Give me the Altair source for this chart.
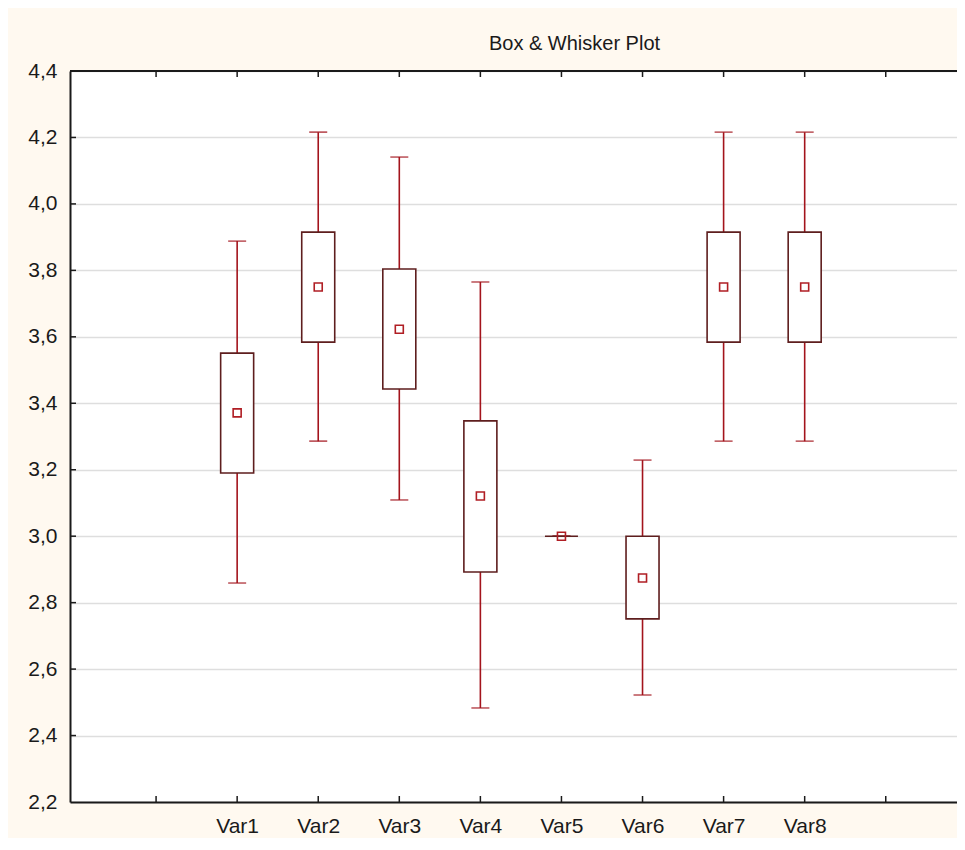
import altair as alt
import pandas as pd

# ---- data ----
slot_labels = ["", "Var1", "Var2", "Var3", "Var4", "Var5", "Var6", "Var7", "Var8", ""]
categories = ["Var1", "Var2", "Var3", "Var4", "Var5", "Var6", "Var7", "Var8"]
means      = [3.371, 3.750, 3.623, 3.121, 3.000, 2.874, 3.750, 3.750]
box_low    = [3.190, 3.584, 3.443, 2.892, 3.000, 2.751, 3.584, 3.584]
box_high   = [3.551, 3.915, 3.804, 3.347, 3.000, 3.000, 3.915, 3.915]
whisk_low  = [2.859, 3.286, 3.109, 2.483, 3.000, 2.522, 3.286, 3.286]
whisk_high = [3.888, 4.216, 4.141, 3.765, 3.000, 3.229, 4.216, 4.216]
y_ticks = [2.2, 2.4, 2.6, 2.8, 3.0, 3.2, 3.4, 3.6, 3.8, 4.0, 4.2, 4.4]

W, H = 887, 731
STEP = 82
FONT = "Liberation Sans"
BG = "#FFF9F0"
WHISK = "#A3141C"
BOXC = "#5E1E1E"
INK = "#1a1a1a"

slot_pos = list(range(1, len(slot_labels) + 1))
df = pd.DataFrame({
    "cat": categories,
    "pos": [slot_labels.index(c) + 1 for c in categories],
    "mean": means, "blo": box_low, "bhi": box_high,
    "wlo": whisk_low, "whi": whisk_high,
})
xt = pd.DataFrame({"pos": slot_pos})
yt = pd.DataFrame({"v": y_ticks[1:-1]})

label_js = "[" + ",".join("'" + s + "'" for s in slot_labels) + "]"
xscale = alt.Scale(domain=[0, W / STEP], nice=False, zero=False)
yscale = alt.Scale(domain=[y_ticks[0], y_ticks[-1]], nice=False, zero=False)

xaxis = alt.Axis(
    orient="bottom", values=slot_pos, labelExpr=label_js + "[datum.value - 1]",
    title=None, grid=False, ticks=False, domain=True, labelAngle=0,
    domainColor=INK, domainWidth=2, labelFlush=False, labelOverlap=False,
    labelFont=FONT, labelFontSize=21, labelColor=INK, labelPadding=13,
)
yaxis = alt.Axis(
    orient="left", values=y_ticks, format=".1f", title=None, grid=True,
    gridColor="#DEDEDE", gridWidth=1.6, ticks=False, domain=True,
    domainColor=INK, domainWidth=2, labelFlush=False, labelOverlap=False,
    labelFont=FONT, labelFontSize=21, labelColor=INK, labelPadding=13,
)

X = alt.X("pos:Q", scale=xscale, axis=xaxis)

def Y(field):
    return alt.Y(field, scale=yscale, axis=yaxis)

base = alt.Chart(df)

whiskers = base.mark_rule(color=WHISK, strokeWidth=1.6).encode(
    x=X, y=Y("wlo:Q"), y2="whi:Q",
)
caps_hi = base.mark_tick(color=WHISK, orient="horizontal", size=18, thickness=1.6).encode(
    x=X, y=Y("whi:Q"),
)
caps_lo = base.mark_tick(color=WHISK, orient="horizontal", size=18, thickness=1.6).encode(
    x=X, y=Y("wlo:Q"),
)
boxes = base.mark_bar(size=33, fill="white", stroke=BOXC, strokeWidth=1.6).encode(
    x=X, y=Y("blo:Q"), y2="bhi:Q",
)
mean_pts = base.mark_point(shape="square", size=64, filled=False, color="#B01E24",
                           strokeWidth=1.6, opacity=1).encode(
    x=X, y=Y("mean:Q"),
)

# inward tick marks (bottom, top, left) and top frame line
tick_bottom = alt.Chart(xt).mark_rule(color=INK, strokeWidth=1.5).encode(
    x=X, y=alt.value(H), y2=alt.value(H - 6),
)
tick_top = alt.Chart(xt).mark_rule(color=INK, strokeWidth=1.5).encode(
    x=X, y=alt.value(0), y2=alt.value(6),
)
tick_left = alt.Chart(yt).mark_rule(color=INK, strokeWidth=1.5).encode(
    y=Y("v:Q"), x=alt.value(0), x2=alt.value(6),
)
top_frame = alt.Chart(yt).mark_rule(color=INK, strokeWidth=2).encode(
    y=alt.Y(datum=y_ticks[-1], scale=yscale, axis=yaxis),
)

chart = alt.layer(
    whiskers, caps_hi, caps_lo, boxes, mean_pts,
    tick_bottom, tick_top, tick_left, top_frame,
).properties(
    width=W, height=H,
    title=alt.TitleParams(
        "Box & Whisker Plot", font=FONT, fontSize=20, fontWeight="normal",
        color=INK, anchor="middle", dx=61, offset=-10, baseline="alphabetic",
    ),
    autosize=alt.AutoSizeParams(type="none"),
    padding={"left": 62, "top": 63, "right": 0, "bottom": 36},
    background=BG,
).configure(
    locale={"number": {"decimal": ",", "thousands": ".", "grouping": [3],
                       "currency": ["", ""]}}
).configure_view(strokeWidth=0, fill="white")

chart.save("out.html", embed_options={"renderer": "svg", "actions": False})
